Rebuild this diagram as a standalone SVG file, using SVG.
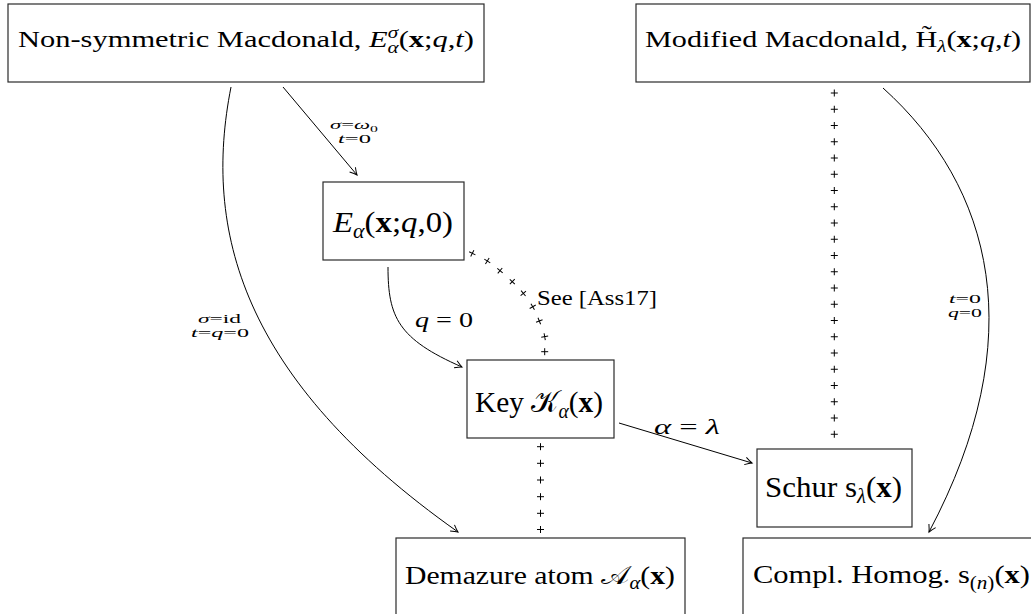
<svg xmlns="http://www.w3.org/2000/svg" xmlns:xlink="http://www.w3.org/1999/xlink" width="1031" height="614" viewBox="0 0 1031 614">
<style>
text{font-family:"Liberation Serif","DejaVu Serif","DejaVu Sans",serif;fill:#000}
.i{font-style:italic}
.b{font-weight:bold}
.box{fill:#fff;stroke:#2a2a2a;stroke-width:1.2}
.e{fill:none;stroke:#000;stroke-width:1}
.mk{fill:none;stroke:#000;stroke-width:1}
.top{font-size:23px}
.mid{font-size:30px}
.bot{font-size:26px}
.lab{font-size:13px}
.lab2{font-size:22px}
</style>
<defs>
<marker id="ah" markerUnits="userSpaceOnUse" markerWidth="14" markerHeight="14" viewBox="-10 -7 14 14" refX="0" refY="0" orient="auto" overflow="visible">
<path d="M-7,-3.8 Q-2.5,-1 0,0 Q-2.5,1 -7,3.8" fill="none" stroke="#000" stroke-width="1"/>
</marker>
<path id="pl" d="M-3.5,0H3.5M0,-3.5V3.5"/>
</defs>

<g id="connectors">
<path class="e" d="M283,87 L357,175" marker-end="url(#ah)"/>
<path class="e" d="M231,87 C203,229 240,378 458,532" marker-end="url(#ah)"/>
<path class="e" d="M388,267 C388,317 398,339 462,367" marker-end="url(#ah)"/>
<path class="e" d="M619,423 L752,463" marker-end="url(#ah)"/>
<path class="e" d="M883,88 C993,187 1032,338 929,532" marker-end="url(#ah)"/>
<g class="mk">
<use xlink:href="#pl" transform="translate(472.3,253.3) rotate(27)"/>
<use xlink:href="#pl" transform="translate(487.3,261) rotate(32)"/>
<use xlink:href="#pl" transform="translate(500,270.7) rotate(40)"/>
<use xlink:href="#pl" transform="translate(512.3,281.7) rotate(44)"/>
<use xlink:href="#pl" transform="translate(523.3,293.3) rotate(50)"/>
<use xlink:href="#pl" transform="translate(532.7,306.7) rotate(60)"/>
<use xlink:href="#pl" transform="translate(539.3,321) rotate(68)"/>
<use xlink:href="#pl" transform="translate(544.7,336.7) rotate(80)"/>
<use xlink:href="#pl" transform="translate(544.7,351.7) rotate(90)"/>
</g>
<g class="mk">
<use xlink:href="#pl" transform="translate(540.5,446.7)"/>
<use xlink:href="#pl" transform="translate(540.5,463.3)"/>
<use xlink:href="#pl" transform="translate(540.5,480)"/>
<use xlink:href="#pl" transform="translate(540.5,496.7)"/>
<use xlink:href="#pl" transform="translate(540.5,513.3)"/>
<use xlink:href="#pl" transform="translate(540.5,529.5)"/>
</g>
<g class="mk">
<use xlink:href="#pl" transform="translate(834.3,93)"/>
<use xlink:href="#pl" transform="translate(834.3,109.25)"/>
<use xlink:href="#pl" transform="translate(834.3,125.5)"/>
<use xlink:href="#pl" transform="translate(834.3,141.75)"/>
<use xlink:href="#pl" transform="translate(834.3,158)"/>
<use xlink:href="#pl" transform="translate(834.3,174.25)"/>
<use xlink:href="#pl" transform="translate(834.3,190.5)"/>
<use xlink:href="#pl" transform="translate(834.3,206.75)"/>
<use xlink:href="#pl" transform="translate(834.3,223)"/>
<use xlink:href="#pl" transform="translate(834.3,239.25)"/>
<use xlink:href="#pl" transform="translate(834.3,255.5)"/>
<use xlink:href="#pl" transform="translate(834.3,271.75)"/>
<use xlink:href="#pl" transform="translate(834.3,288)"/>
<use xlink:href="#pl" transform="translate(834.3,304.25)"/>
<use xlink:href="#pl" transform="translate(834.3,320.5)"/>
<use xlink:href="#pl" transform="translate(834.3,336.75)"/>
<use xlink:href="#pl" transform="translate(834.3,353)"/>
<use xlink:href="#pl" transform="translate(834.3,369.25)"/>
<use xlink:href="#pl" transform="translate(834.3,385.5)"/>
<use xlink:href="#pl" transform="translate(834.3,401.75)"/>
<use xlink:href="#pl" transform="translate(834.3,418)"/>
<use xlink:href="#pl" transform="translate(834.3,434.25)"/>
</g>
<text class="lab" x="330" y="129" textLength="48" lengthAdjust="spacingAndGlyphs"><tspan class="i">σ</tspan>=<tspan class="i">ω</tspan><tspan font-size="9" dy="3">0</tspan></text>
<text class="lab" x="338" y="143" textLength="33" lengthAdjust="spacingAndGlyphs"><tspan class="i">t</tspan>=0</text>
<text class="lab" x="198" y="323" textLength="43" lengthAdjust="spacingAndGlyphs"><tspan class="i">σ</tspan>=id</text>
<text class="lab" x="191" y="337" textLength="58" lengthAdjust="spacingAndGlyphs"><tspan class="i">t</tspan>=<tspan class="i">q</tspan>=0</text>
<text class="lab" x="949" y="303" textLength="32" lengthAdjust="spacingAndGlyphs"><tspan class="i">t</tspan>=0</text>
<text class="lab" x="948" y="317" textLength="34" lengthAdjust="spacingAndGlyphs"><tspan class="i">q</tspan>=0</text>
<text class="lab2" x="415" y="327" textLength="58" lengthAdjust="spacingAndGlyphs"><tspan class="i">q</tspan> = 0</text>
<text class="lab2" x="537" y="305" textLength="120" lengthAdjust="spacingAndGlyphs" font-size="24">See [Ass17]</text>
<text class="lab2" x="654" y="434" textLength="66" lengthAdjust="spacingAndGlyphs"><tspan class="i">α</tspan> = <tspan class="i">λ</tspan></text>
</g>

<g id="n-nonsym">
<rect class="box" x="8" y="4" width="476" height="78"/>
<text class="top" x="18" y="47" textLength="456" lengthAdjust="spacingAndGlyphs">Non-symmetric Macdonald, <tspan class="i">E</tspan><tspan class="i" font-size="16" dy="-9">σ</tspan><tspan class="i" font-size="16" dx="-8" dy="15">α</tspan><tspan dy="-6">(</tspan><tspan class="b">x</tspan>;<tspan class="i">q</tspan>,<tspan class="i">t</tspan>)</text>
</g>

<g id="n-modified">
<rect class="box" x="636" y="4" width="394" height="78"/>
<text class="top" x="645" y="47" textLength="376" lengthAdjust="spacingAndGlyphs">Modified Macdonald, H̃<tspan class="i" font-size="16" dy="5">λ</tspan><tspan dy="-5">(</tspan><tspan class="b">x</tspan>;<tspan class="i">q</tspan>,<tspan class="i">t</tspan>)</text>
</g>

<g id="n-e">
<rect class="box" x="323" y="182" width="141" height="78"/>
<text class="mid" x="333" y="232" textLength="120" lengthAdjust="spacingAndGlyphs"><tspan class="i">E</tspan><tspan class="i" font-size="20" dy="6">α</tspan><tspan dy="-6">(</tspan><tspan class="b">x</tspan>;<tspan class="i">q</tspan>,0)</text>
</g>

<g id="n-key">
<rect class="box" x="467" y="360" width="147" height="78"/>
<text class="mid" x="475" y="412" textLength="128" lengthAdjust="spacingAndGlyphs">Key 𝒦<tspan class="i" font-size="20" dy="6">α</tspan><tspan dy="-6">(</tspan><tspan class="b">x</tspan>)</text>
</g>

<g id="n-schur">
<rect class="box" x="757" y="449" width="155" height="78"/>
<text class="mid" x="765" y="497" textLength="137" lengthAdjust="spacingAndGlyphs">Schur s<tspan class="i" font-size="20" dy="6">λ</tspan><tspan dy="-6">(</tspan><tspan class="b">x</tspan>)</text>
</g>

<g id="n-demazure">
<rect class="box" x="396" y="538" width="289" height="78"/>
<text class="bot" x="405" y="584" textLength="270" lengthAdjust="spacingAndGlyphs">Demazure atom 𝒜<tspan class="i" font-size="18" dy="5">α</tspan><tspan dy="-5">(</tspan><tspan class="b">x</tspan>)</text>
</g>

<g id="n-compl">
<rect class="box" x="743" y="538" width="300" height="78"/>
<text class="bot" x="753" y="583" textLength="277" lengthAdjust="spacingAndGlyphs">Compl. Homog. s<tspan font-size="18" dy="6">(<tspan class="i">n</tspan>)</tspan><tspan dy="-6">(</tspan><tspan class="b">x</tspan>)</text>
</g>
</svg>
